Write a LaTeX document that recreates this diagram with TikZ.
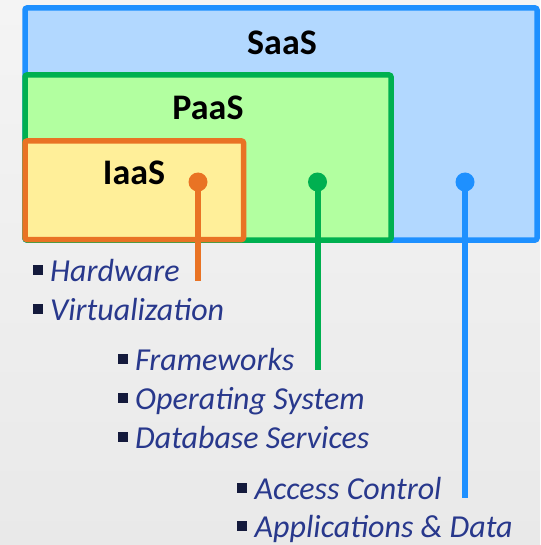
\documentclass[tikz,border=0pt]{standalone}
\usepackage{fontspec}
\setmainfont{Carlito}
\definecolor{saasline}{RGB}{30,144,255}
\definecolor{saasfill}{RGB}{178,216,255}
\definecolor{paasline}{RGB}{0,176,80}
\definecolor{paasfill}{RGB}{178,255,160}
\definecolor{iaasline}{RGB}{233,115,36}
\definecolor{iaasfill}{RGB}{255,239,153}
\definecolor{itemtext}{RGB}{40,56,140}
\definecolor{bulletc}{RGB}{20,26,60}
\definecolor{bgtop}{RGB}{244,244,244}
\definecolor{bgbot}{RGB}{233,233,233}
\tikzset{
  layerbox/.style={draw, line width=5.5pt, rounded corners=2pt, inner sep=0pt, outer sep=0pt},
  layerlabel/.style={font=\fontsize{36}{40}\selectfont\bfseries, text=black, inner sep=0pt},
  dotnode/.style={circle, fill, inner sep=0pt, minimum size=19pt},
  stem/.style={line width=6pt},
  item/.style={anchor=base west, inner sep=0pt, text=itemtext, font=\fontsize{32}{36}\selectfont\itshape},
}
\newcommand{\bul}{\textcolor{bulletc}{\raisebox{6.5pt}{\rule{10pt}{10pt}}}\hspace{7.5pt}}
\begin{document}
\begin{tikzpicture}[x=1pt,y=-1pt]
\useasboundingbox (0,0) rectangle (540,545);
\shade[top color=bgtop, bottom color=bgbot] (0,0) rectangle (540,545);
% layers
\draw[layerbox, saasline, fill=saasfill] (25,8) rectangle (537,240);
\draw[layerbox, paasline, fill=paasfill] (25,75) rectangle (391,240);
\draw[layerbox, iaasline, fill=iaasfill] (25,141) rectangle (243.5,239.5);
\node[layerlabel] (saas) at (282,43) {SaaS};
\node[layerlabel] (paas) at (208,108) {PaaS};
\node[layerlabel] (iaas) at (134,173) {IaaS};
% dots and stems
\node[dotnode, iaasline] (di) at (198,182) {};
\node[dotnode, paasline] (dp) at (317.5,182) {};
\node[dotnode, saasline] (ds) at (465,182) {};
\coordinate (ei) at (198,281);
\coordinate (ep) at (317.5,370);
\coordinate (es) at (465,498);
\draw[stem, iaasline] (di.center) -- (ei);
\draw[stem, paasline] (dp.center) -- (ep);
\draw[stem, saasline] (ds.center) -- (es);
% items
\node[item] (hw) at (32.5,281) {\bul Hardware};
\node[item] (vt) at (32.5,320) {\bul Virtualization};
\node[item] (fw) at (117.5,370) {\bul Frameworks};
\node[item] (os) at (117.5,409) {\bul Operating System};
\node[item] (db) at (117.5,448) {\bul Database Services};
\node[item] (ac) at (237,499) {\bul Access Control};
\node[item] (ad) at (237,537) {\bul Applications \& Data};
\end{tikzpicture}
\end{document}
